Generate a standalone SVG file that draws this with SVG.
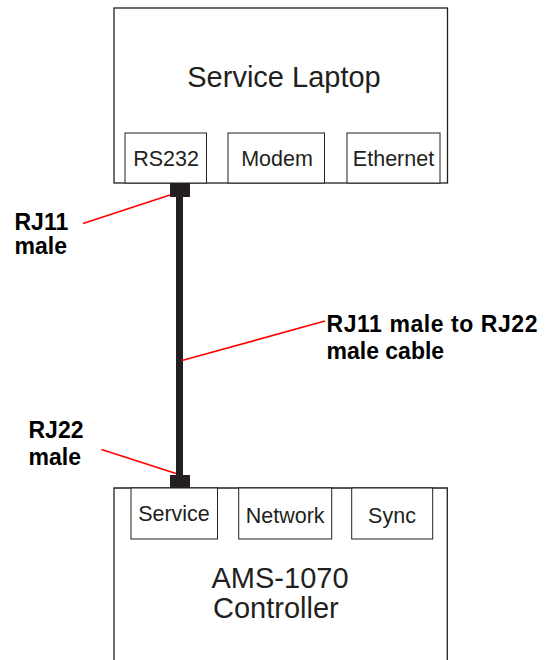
<svg xmlns="http://www.w3.org/2000/svg" width="548" height="660" viewBox="0 0 548 660">
<style>
.box{fill:#fff;stroke:#231f20;stroke-width:1.3}
.port{fill:#fff;stroke:#231f20;stroke-width:1}
.title{font-family:"Liberation Sans",Arial,sans-serif;font-size:29px;fill:#231f20}
.plbl{font-family:"Liberation Sans",Arial,sans-serif;font-size:21.5px;fill:#231f20;text-anchor:middle}
.lbl{font-family:"Liberation Sans",Arial,sans-serif;font-size:23px;font-weight:bold;fill:#000}
.lead{stroke:#ff0000;stroke-width:1.6;fill:none}
.plug{fill:#231f20}
</style>
<rect width="548" height="660" fill="#fff"/>
<g id="laptop">
<rect class="box" x="114" y="8" width="333.5" height="175"/>
<text class="title" x="284" y="86.5" text-anchor="middle">Service Laptop</text>
</g>
<g id="port-rs232">
<rect class="port" x="125" y="133" width="81.5" height="50"/>
<text class="plbl" x="166" y="166">RS232</text>
</g>
<g id="port-modem">
<rect class="port" x="228" y="133" width="96.5" height="50"/>
<text class="plbl" x="277" y="166">Modem</text>
</g>
<g id="port-ethernet">
<rect class="port" x="347" y="133" width="93" height="50"/>
<text class="plbl" x="393.5" y="166">Ethernet</text>
</g>
<g id="controller">
<path class="box" d="M114 660 V488 H447.3 V660"/>
<text class="title" x="211.5" y="588.3">AMS-1070</text>
<text class="title" x="213" y="618.3">Controller</text>
</g>
<g id="port-service">
<rect class="port" x="131" y="488" width="86.5" height="51"/>
<text class="plbl" x="174" y="521">Service</text>
</g>
<g id="port-network">
<rect class="port" x="238.7" y="488" width="93" height="51"/>
<text class="plbl" x="285.2" y="522.5">Network</text>
</g>
<g id="port-sync">
<rect class="port" x="351.7" y="488" width="81" height="51"/>
<text class="plbl" x="392" y="522.5">Sync</text>
</g>
<g id="connectors">
<rect class="plug" x="170" y="183" width="20" height="14"/>
<rect class="plug" x="176" y="197" width="7" height="278"/>
<rect class="plug" x="170" y="475" width="20" height="13"/>
<line class="lead" x1="83" y1="223.5" x2="170" y2="195"/>
<line class="lead" x1="101.5" y1="449.5" x2="176" y2="473.5"/>
<line class="lead" x1="325" y1="321" x2="182" y2="360.5"/>
</g>
<g id="labels">
<text class="lbl" x="14.5" y="229.5">RJ11</text>
<text class="lbl" x="14.5" y="254">male</text>
<text class="lbl" x="28.5" y="437.5">RJ22</text>
<text class="lbl" x="28.5" y="465">male</text>
<text class="lbl" x="326.5" y="332" textLength="211" lengthAdjust="spacing">RJ11 male to RJ22</text>
<text class="lbl" x="326.5" y="358.5">male cable</text>
</g>
</svg>
